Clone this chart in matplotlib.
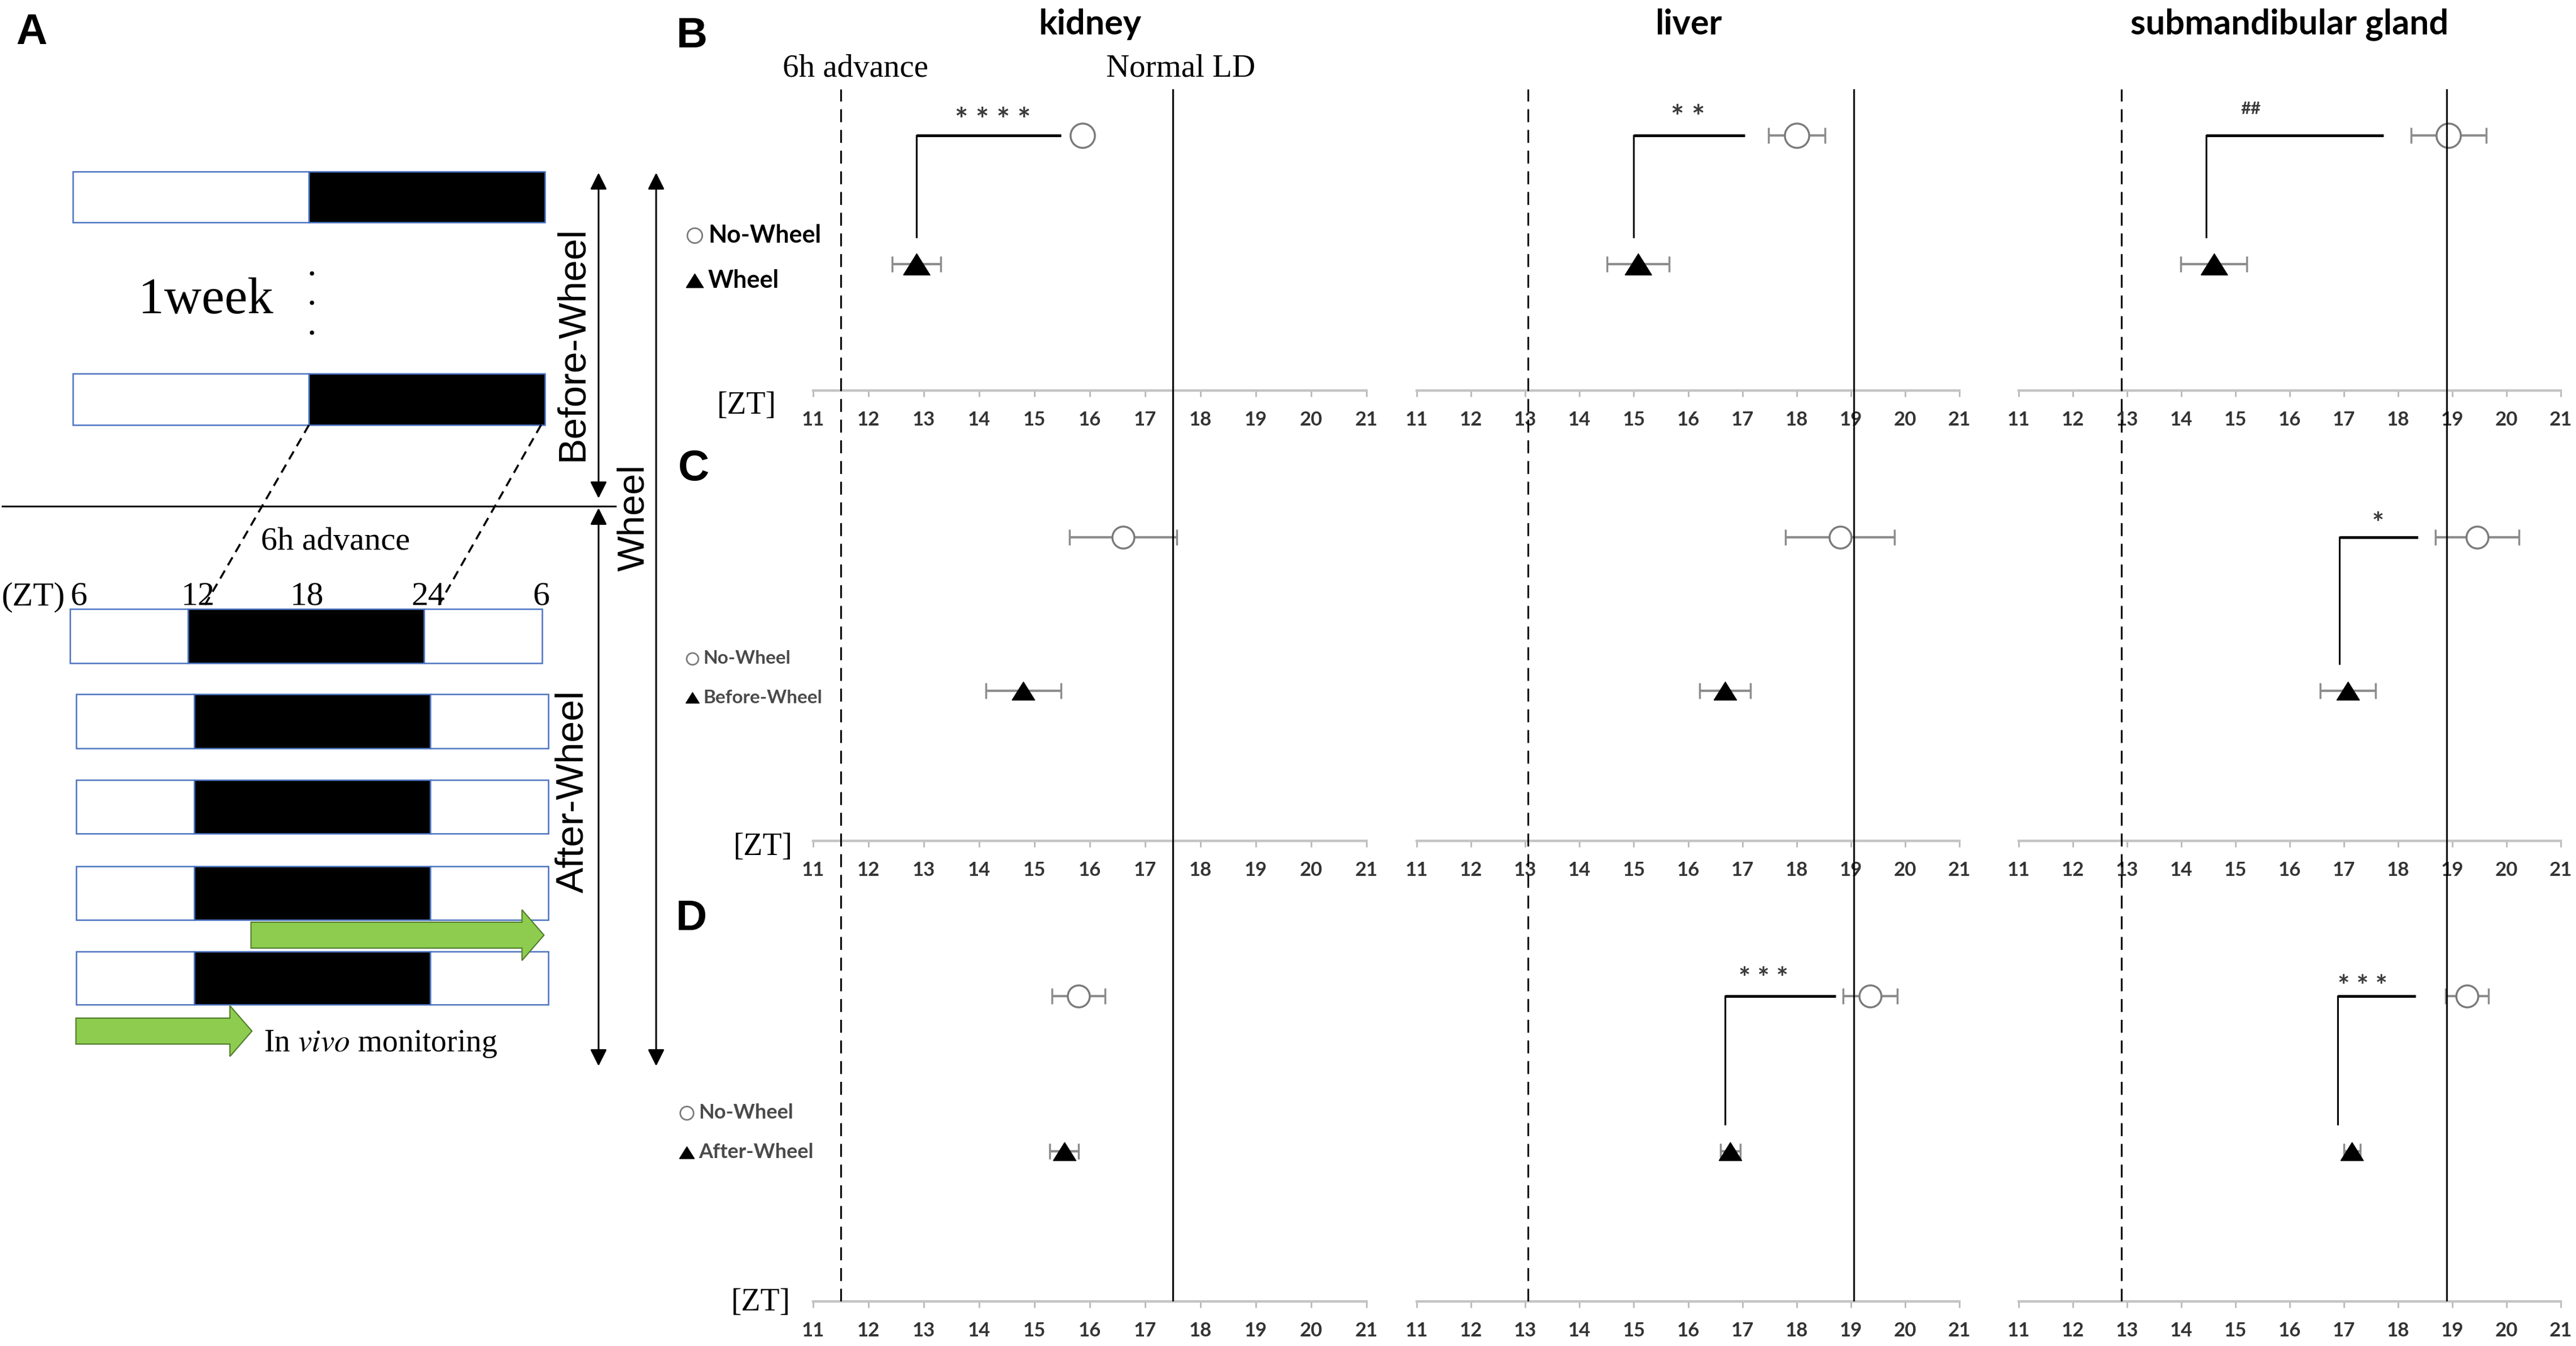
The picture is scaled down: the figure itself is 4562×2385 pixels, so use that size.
import numpy as np
import matplotlib
matplotlib.use("Agg")
import matplotlib.pyplot as plt
from matplotlib.patches import Rectangle, Polygon

plt.rcParams["mathtext.fontset"] = "stix"
plt.rcParams["font.family"] = ["Liberation Sans", "DejaVu Sans"]

W, H = 4562, 2385
SERIF = "Liberation Serif"
CAL = "Lato"
BLUE = "#4a72c0"

# ---------------- panel A: light/dark schedule (ZT hours) ----------------
BEFORE_LD = [(6, 18, "light"), (18, 30, "dark")]
AFTER_LD = [(6, 12, "light"), (12, 24, "dark"), (24, 30, "light")]
ZT_MARK_LABELS = ["6", "12", "18", "24", "6"]

# ---------------- panels B-D: acrophase (ZT) ----------------
TISSUES = ["kidney", "liver", "submandibular gland"]
ZT_TICKS = list(range(11, 22))
ADVANCE_LINE = [11.5, 13.05, 12.9]
NORMAL_LD_LINE = [17.5, 19.05, 18.9]

ROW_LETTERS = ["B", "C", "D"]
COMPARE_LABELS = ["Wheel", "Before-Wheel", "After-Wheel"]

NOWHEEL_MEAN = [[15.87, 18.0, 18.93], [16.6, 18.8, 19.46], [15.8, 19.36, 19.27]]
NOWHEEL_SEM = [[0.0, 0.52, 0.69], [0.97, 1.0, 0.77], [0.48, 0.5, 0.4]]
COMPARE_MEAN = [[12.87, 15.08, 14.6], [14.8, 16.68, 17.07], [15.54, 16.78, 17.15]]
COMPARE_SEM = [[0.44, 0.57, 0.61], [0.68, 0.47, 0.51], [0.26, 0.18, 0.15]]

SIG_LABELS = [["* * * *", "* *", "##"], ["", "", "*"], ["", "* * *", "* * *"]]
SIG_START = [[12.87, 15.0, 14.46], [None, None, 16.92], [None, 16.68, 16.89]]
SIG_END = [[15.48, 17.05, 17.73], [None, None, 18.36], [None, 18.72, 18.32]]
SIG_X = [[14.25, 16.0, 15.28], [None, None, 17.63], [None, 17.39, 17.34]]

# layout (pixels of the 4562x2385 canvas)
COL_X = [(1440, 2420), (2509, 3470), (3575, 4535)]
ROW_TOP = [150, 800, 1600]
ROW_AXIS = [692, 1490, 2306]
NOWHEEL_Y = [240, 952, 1765]
COMPARE_Y = [468, 1224, 2040]
SIG_Y = [[199, 194, 191], [None, None, 915], [None, 1721, 1736]]

TRI = [(-1, -0.8), (1, -0.8), (0, 0.8), (-1, -0.8)]


def frac(x0, y0, x1, y1):
    return [x0 / W, 1 - y1 / H, (x1 - x0) / W, (y1 - y0) / H]


fig = plt.figure(figsize=(W / 100, H / 100), dpi=100)

# ---------- panel A in hours (x) / pixels (y) ----------
PX_PER_H = 34.83
axA = fig.add_axes([0, 0, 1, 1])
axA.set_xlim(6 - 124 / PX_PER_H, 6 + (W - 124) / PX_PER_H)
axA.set_ylim(H, 0)
axA.axis("off")
axA.patch.set_alpha(0)


def draw_ld(segments, y_top, y_bot, shift):
    for start, end, phase in segments:
        axA.add_patch(Rectangle((start + shift, y_top), end - start, y_bot - y_top,
                                facecolor="white" if phase == "light" else "black",
                                edgecolor=BLUE, lw=1.8))


for (yt, yb) in [(304, 394), (662, 753)]:
    draw_ld(BEFORE_LD, yt, yb, 0.15)
for i, (yt, yb) in enumerate([(1079, 1175), (1230, 1326), (1382, 1477),
                              (1535, 1630), (1686, 1780)]):
    draw_ld(AFTER_LD, yt, yb, 0.0 if i == 0 else 0.32)

axA.text(12.9, 533, "1week", family=SERIF, fontsize=66, ha="center", va="center")
axA.plot([18.3] * 3, [484, 536, 589], ls="none", marker="o", ms=4.5, color="black")

# dashed guides for the 6h advance
axA.plot([18.15, 12.86], [753, 1072], ls=(0, (4.5, 3)), color="black", lw=2.6)
axA.plot([29.95, 24.75], [753, 1072], ls=(0, (4.5, 3)), color="black", lw=2.6)
axA.text(19.5, 960, "6h advance", family=SERIF, fontsize=42, ha="center", va="center")

axA.text(5.75, 1072, "(ZT)", family=SERIF, fontsize=43, ha="right", va="baseline")
for xh, lab in zip([6.45, 12.5, 18.05, 24.2, 29.95], ZT_MARK_LABELS):
    axA.text(xh, 1072, lab, family=SERIF, fontsize=43, ha="center", va="baseline")


def green_arrow(x0, x1, yc, half_body=23, half_head=45, head_len=1.12):
    xs = [x0, x1 - head_len, x1 - head_len, x1, x1 - head_len, x1 - head_len, x0]
    ys = [yc - half_body, yc - half_body, yc - half_head, yc, yc + half_head,
          yc + half_body, yc + half_body]
    axA.add_patch(Polygon(list(zip(xs, ys)), closed=True, facecolor="#8dcc4e",
                          edgecolor="#4f7a2a", lw=1.5, zorder=5))


green_arrow(15.2, 30.1, 1657)
green_arrow(6.3, 15.25, 1827)
axA.text(15.85, 1850, r"In $\mathit{vivo}$ monitoring", family=SERIF, fontsize=40,
         ha="left", va="center")

# ---------- panels B-D ----------
axes = []
for r in range(3):
    row = []
    for c in range(3):
        x0, x1 = COL_X[c]
        ax = fig.add_axes(frac(x0, ROW_TOP[r], x1, ROW_AXIS[r]))
        ax.patch.set_alpha(0)
        ax.set_xlim(11, 21)
        ax.set_ylim(ROW_AXIS[r], ROW_TOP[r])
        for s in ["top", "left", "right"]:
            ax.spines[s].set_visible(False)
        ax.spines["bottom"].set_color("#c4c4c4")
        ax.spines["bottom"].set_linewidth(3.2)
        ax.set_yticks([])
        ax.set_xticks(ZT_TICKS)
        ax.tick_params(axis="x", direction="out", length=8, width=2, color="#b8b8b8",
                       labelsize=25, labelcolor="#333333", pad=18)
        for lab in ax.get_xticklabels():
            lab.set_fontfamily(CAL)
            lab.set_fontweight("bold")

        ms_c = 31 if r == 0 else 28
        ms_t = 34 if r == 0 else 29
        yn, yc = NOWHEEL_Y[r], COMPARE_Y[r]

        m, e = NOWHEEL_MEAN[r][c], NOWHEEL_SEM[r][c]
        if e > 0:
            ax.errorbar(m, yn, xerr=e, fmt="none", ecolor="#8c8c8c", elinewidth=3,
                        capsize=10, capthick=2.5, zorder=2)
        ax.plot(m, yn, marker="o", ms=ms_c, mfc="white", mec="#7a7a7a", mew=2.5, zorder=3)

        m, e = COMPARE_MEAN[r][c], COMPARE_SEM[r][c]
        ax.errorbar(m, yc, xerr=e, fmt="none", ecolor="#8c8c8c", elinewidth=3,
                    capsize=10, capthick=2.5, zorder=2)
        ax.plot(m, yc, marker=TRI, ms=ms_t, color="black", zorder=3)

        sig = SIG_LABELS[r][c]
        if sig:
            s0, s1 = SIG_START[r][c], SIG_END[r][c]
            ax.plot([s0, s0], [yc - 48, yn], color="black", lw=2.2, zorder=1)
            ax.plot([s0, s1], [yn, yn], color="black", lw=3.6, zorder=1,
                    solid_capstyle="butt")
            if sig.startswith("#"):
                fs, k = 22, 0.35
            else:
                fs, k = 40 if r == 0 else 36, 0.57
            ax.text(SIG_X[r][c], SIG_Y[r][c] + k * fs / 0.72, sig, family=CAL, fontsize=fs,
                    fontweight="bold", color="#3a3a3a", ha="center", va="baseline")
        row.append(ax)
    axes.append(row)

axes[0][0].text(ADVANCE_LINE[0] + 0.27, 122, "6h advance", family=SERIF, fontsize=41,
                ha="center", va="center", clip_on=False)
axes[0][0].text(NORMAL_LD_LINE[0] + 0.14, 122, "Normal LD", family=SERIF, fontsize=41,
                ha="center", va="center", clip_on=False)

# reference lines spanning the three rows
for c in range(3):
    x0, x1 = COL_X[c]
    vax = fig.add_axes(frac(x0, 158, x1, ROW_AXIS[2]))
    vax.set_xlim(11, 21)
    vax.axis("off")
    vax.patch.set_alpha(0)
    vax.axvline(ADVANCE_LINE[c], color="black", lw=2.2, ls=(0, (7.5, 4.5)))
    vax.axvline(NORMAL_LD_LINE[c], color="black", lw=2.2)

# ---------- overlay in pixel coordinates ----------
ov = fig.add_axes([0, 0, 1, 1])
ov.set_xlim(0, W)
ov.set_ylim(H, 0)
ov.axis("off")
ov.patch.set_alpha(0)

for (x, y), letter in zip([(56, 58), (1225, 64), (1229, 832), (1225, 1629)],
                          ["A"] + ROW_LETTERS):
    ov.text(x, y, letter, fontsize=55, fontweight="bold", ha="center", va="center",
            family="Liberation Sans")

for xc, t in zip([1930, 2990, 4055], TISSUES):
    ov.text(xc, 43, t, family=CAL, fontweight="bold", fontsize=44, ha="center", va="center")

for (x, y) in [(1322, 719), (1351, 1501), (1347, 2308)]:
    ov.text(x, y, "[ZT]", family=SERIF, fontsize=40, ha="center", va="center")

# legends
leg = [((1230, 417, 497), 1254, 31, 19, 22, "black"),
       ((1226, 1167, 1236), 1245, 24, 15, 17, "#4a4a4a"),
       ((1216, 1972, 2042), 1237, 26, 17, 19, "#4a4a4a")]
for r, ((mx, y1, y2), tx, fs, msc, mst, col) in enumerate(leg):
    ov.plot(mx, y1, marker="o", ms=msc, mfc="white", mec="#7a7a7a", mew=2)
    ov.plot(mx, y2, marker=TRI, ms=mst, color="black")
    ov.text(tx, y1, "No-Wheel", family=CAL, fontsize=fs, fontweight="bold", color=col,
            ha="left", va="center")
    ov.text(tx, y2, COMPARE_LABELS[r], family=CAL, fontsize=fs, fontweight="bold",
            color=col, ha="left", va="center")

# timeline arrows and dividing line
ov.plot([4, 1107], [897, 897], color="black", lw=2.2)
arrow_kw = dict(arrowstyle="<|-|>", color="black", lw=2.2, mutation_scale=45,
                shrinkA=0, shrinkB=0)
ov.annotate("", xy=(1060, 306), xytext=(1060, 883), arrowprops=arrow_kw)
ov.annotate("", xy=(1060, 900), xytext=(1060, 1889), arrowprops=arrow_kw)
ov.annotate("", xy=(1162, 306), xytext=(1162, 1889), arrowprops=arrow_kw)
ov.text(1014, 609, "Before-Wheel", fontsize=49, rotation=90, ha="center", va="center",
        family="Liberation Sans")
ov.text(1014, 1402, "After-Wheel", fontsize=49, rotation=90, ha="center", va="center",
        family="Liberation Sans")
ov.text(1123, 917, "Wheel", fontsize=48, rotation=90, ha="center", va="center",
        family="Liberation Sans", bbox=dict(facecolor="white", edgecolor="none", pad=0))

fig.savefig("out.png", dpi=100)
